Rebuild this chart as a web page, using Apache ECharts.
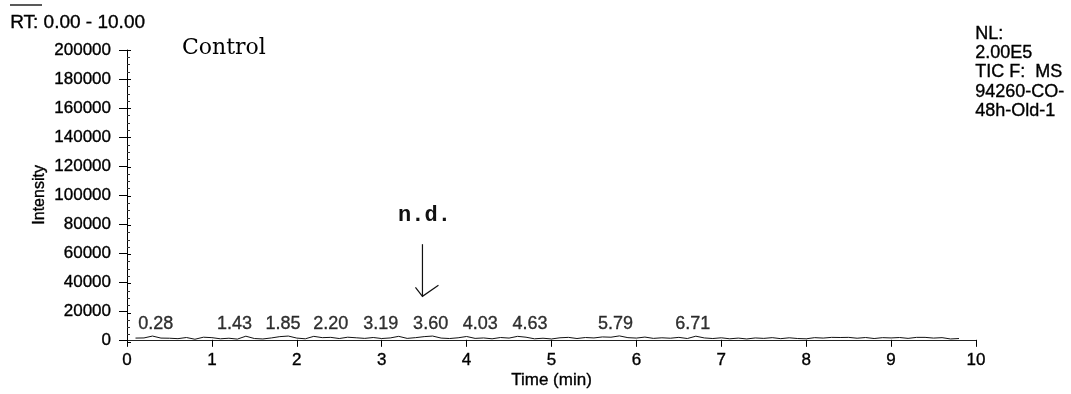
<!DOCTYPE html>
<html><head><meta charset="utf-8">
<script src="https://cdn.jsdelivr.net/npm/echarts@6/dist/echarts.min.js"></script>
<style>html,body{margin:0;padding:0;background:#fff}#c{width:1071px;height:394px}</style>
</head><body><div id="c"></div><script>
// ---------------- DATA ----------------
const traceTimes = [0.1,0.2,0.3,0.4,0.5,0.6,0.7,0.8,0.9,1.0,1.1,1.2,1.3,1.4,1.5,1.6,1.7,1.8,1.9,2.0,
  2.1,2.2,2.3,2.4,2.5,2.6,2.7,2.8,2.9,3.0,3.1,3.2,3.3,3.4,3.5,3.6,3.7,3.8,3.9,4.0,
  4.1,4.2,4.3,4.4,4.5,4.6,4.7,4.8,4.9,5.0,5.1,5.2,5.3,5.4,5.5,5.6,5.7,5.8,5.9,6.0,
  6.1,6.2,6.3,6.4,6.5,6.6,6.7,6.8,6.9,7.0,7.1,7.2,7.3,7.4,7.5,7.6,7.7,7.8,7.9,8.0,
  8.1,8.2,8.3,8.4,8.5,8.6,8.7,8.8,8.9,9.0,9.1,9.2,9.3,9.4,9.5,9.6,9.7,9.8];
const traceIntensity = [1200,1300,2600,1200,1100,800,1600,400,1800,1500,700,1100,500,2500,900,600,1300,2200,2600,1200,
  700,2400,1500,1700,900,1800,1400,1000,1600,900,1300,2400,1000,1500,2200,2600,1200,900,1400,2300,
  1000,1300,700,1600,1200,2400,1800,700,1100,600,1400,1700,900,1600,1300,2000,1800,2700,1500,1200,
  1900,1000,1400,1100,1700,900,2500,1300,900,1400,700,1200,600,1300,1000,1500,800,1400,900,700,
  1500,1200,1700,1600,1700,1100,1600,900,1500,1300,1600,1000,1700,1700,1200,1500,600,900];
const peakTimes = [0.28,1.43,1.85,2.20,3.19,3.60,4.03,4.63,5.79,6.71];
const peakIntensity = [2600,2500,2600,2400,2400,2600,2300,2400,2700,2500];
const headerText = 'RT: 0.00 - 10.00';
const sampleName = 'Control';
const infoLines = ['NL:', '2.00E5', 'TIC F:  MS', '94260-CO-', '48h-Old-1'];
const noteText = 'n.d.';
const arrowTime = 3.48, arrowFrom = 66000, arrowTo = 30000;
const xTitle = 'Time (min)', yTitle = 'Intensity';

// ---------------- STYLE ----------------
const FONT = '"Liberation Sans", Arial, sans-serif';
const INK = {color: '#000', textBorderColor: '#000', textBorderWidth: 0.35};
const labelNudgePx = [5,-14,-1,17,-17,-2,11,10,-3,-4];
const GRID = {left: 127, right: 95, top: 50, bottom: 52, containLabel: false};

const chart = echarts.init(document.getElementById('c'), null, {renderer: 'canvas'});
const axisCommon = {min: 0, max: 200000, interval: 20000};
chart.setOption({
  animation: false,
  backgroundColor: '#fff',
  grid: [Object.assign({}, GRID), Object.assign({}, GRID)],
  xAxis: [{
    type: 'value', gridIndex: 0, min: 0, max: 10, interval: 1,
    name: xTitle, nameLocation: 'middle', nameGap: 32, nameMoveOverlap: false,
    nameTextStyle: Object.assign({fontFamily: FONT, fontSize: 17}, INK),
    axisLine: {show: true, lineStyle: {color: '#222', width: 1}},
    axisTick: {show: true, length: 7, lineStyle: {color: '#000'}},
    axisLabel: Object.assign({fontFamily: FONT, fontSize: 17, margin: 12}, INK),
    splitLine: {show: false}
  }, {
    type: 'value', gridIndex: 1, min: 0, max: 10, show: false
  }],
  yAxis: [
    Object.assign({
      type: 'value', gridIndex: 0, position: 'left',
      name: yTitle, nameLocation: 'middle', nameGap: 79, nameMoveOverlap: false,
      nameTextStyle: Object.assign({fontFamily: FONT, fontSize: 16}, INK),
      axisLine: {show: true, lineStyle: {color: '#000', width: 1}},
      axisTick: {show: true, length: 8, lineStyle: {color: '#000'}},
      axisLabel: Object.assign({fontFamily: FONT, fontSize: 17, margin: 16, formatter: v => String(v)}, INK),
      splitLine: {show: false}
    }, axisCommon),
    Object.assign({
      type: 'value', gridIndex: 1, position: 'left', offset: 0,
      axisLine: {show: false},
      axisTick: {show: true, inside: true, length: 4, lineStyle: {color: '#000'}},
      minorTick: {show: true, splitNumber: 4, length: 3, lineStyle: {color: '#333'}},
      axisLabel: {show: false},
      splitLine: {show: false}
    }, axisCommon)
  ],
  series: [
    {
      type: 'line', xAxisIndex: 0, yAxisIndex: 0, symbol: 'none', silent: true,
      data: traceTimes.map((t, i) => [t, traceIntensity[i]]),
      lineStyle: {color: '#111', width: 1}
    },
    {
      type: 'scatter', xAxisIndex: 0, yAxisIndex: 0, symbolSize: 0, silent: true,
      data: peakTimes.map((t, i) => ({
        value: [t, peakIntensity[i]],
        label: {offset: [labelNudgePx[i], 0]}
      })),
      label: Object.assign({
        show: true, position: 'top', distance: 3,
        formatter: p => p.value[0].toFixed(2),
        fontFamily: FONT, fontSize: 18
      }, INK)
    },
    {
      type: 'line', xAxisIndex: 1, yAxisIndex: 1, symbol: 'none', silent: true, data: []
    }
  ]
});

function drawOverlay() {
  const top = chart.convertToPixel({xAxisIndex: 0, yAxisIndex: 0}, [arrowTime, arrowFrom]);
  const tip = chart.convertToPixel({xAxisIndex: 0, yAxisIndex: 0}, [arrowTime, arrowTo]);
  const txt = (s, font) => ({text: s, font: font, fill: '#000', stroke: '#000', lineWidth: 0.35});
  chart.setOption({
    graphic: [
      {type: 'line', shape: {x1: 10, y1: 5, x2: 42, y2: 5}, style: {stroke: '#222', lineWidth: 1.5}},
      {type: 'text', left: 10, top: 13, style: txt(headerText, '19px ' + FONT)},
      {type: 'text', left: 182, top: 37, style: {text: sampleName, font: '22px "DejaVu Serif", serif', fill: '#000'}},
      {type: 'text', left: 975, top: 24, style: Object.assign(txt(infoLines.join('\n'), '18px ' + FONT), {lineHeight: 19.3})},
      {type: 'text', x: top[0] + 2, y: top[1] - 29, style: {text: noteText, font: 'bold 22px "Liberation Mono", "DejaVu Sans Mono", monospace', fill: '#111', align: 'center', verticalAlign: 'middle'}},
      {type: 'polyline', shape: {points: [[top[0], top[1]], [tip[0], tip[1]]]}, style: {stroke: '#111', lineWidth: 1.2, fill: null}},
      {type: 'polyline', shape: {points: [[tip[0] - 7, tip[1] - 9], [tip[0], tip[1]], [tip[0] + 16, tip[1] - 11]]}, style: {stroke: '#111', lineWidth: 1.2, fill: null}}
    ]
  });
}
drawOverlay();
</script></body></html>
